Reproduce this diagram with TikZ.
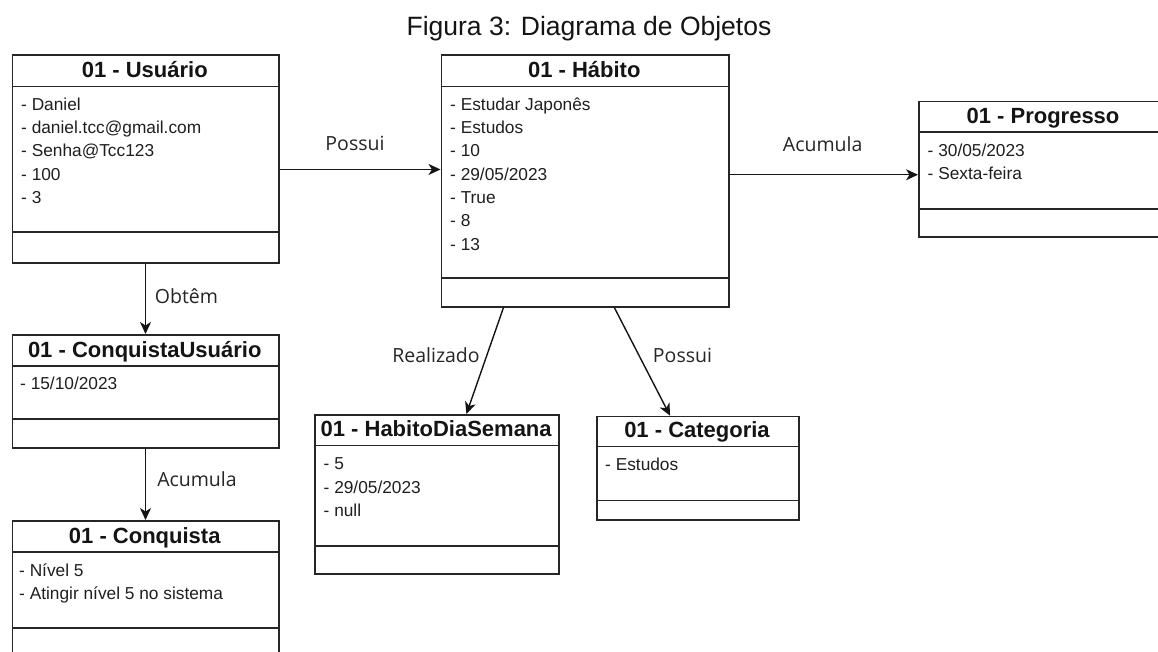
\documentclass[tikz,border=0pt]{standalone}
\usepackage{fontspec}
\setmainfont{Liberation Sans}
\newfontfamily\lblfont{Open Sans}
\usetikzlibrary{arrows.meta}
\definecolor{bordc}{HTML}{262626}
\tikzset{
  objbox/.style={draw=bordc, line width=1.5pt, fill=white, rectangle, inner sep=0pt, anchor=north west},
  divline/.style={draw=bordc, line width=1.5pt},
  hdtext/.style={anchor=base, inner sep=0pt, font=\fontsize{22pt}{26pt}\selectfont\bfseries, text=black!92},
  attrtext/.style={anchor=base west, inner sep=0pt, font=\fontsize{17.3pt}{20pt}\selectfont, text=black!88},
  lbltext/.style={anchor=base, inner sep=0pt, font=\lblfont\fontsize{19.5pt}{23pt}\selectfont, text=black!85},
  conn/.style={draw=black!92, line width=1.4pt, -{Stealth[length=12pt, width=11pt, inset=3.5pt]}},
  ttltext/.style={anchor=base, inner sep=0pt, font=\fontsize{26.5pt}{30pt}\selectfont, text=black!92}
}
\begin{document}
\begin{tikzpicture}[x=1pt,y=-1pt]
\useasboundingbox (0,0) rectangle (1158,651);
\clip (0,0) rectangle (1158,651);
\fill[white] (0,0) rectangle (1158,651);

% Title
\node[ttltext] (title) at (589,35) {Figura 3: Diagrama de Objetos};

% 01 - Usuario
\node[objbox, minimum width=266.5pt, minimum height=208pt] (U) at (11.5,54) {};
\draw[divline] (U.west |- 0,86.5) -- (U.east |- 0,86.5);
\draw[divline] (U.west |- 0,232) -- (U.east |- 0,232);
\node[hdtext] (Ut) at (144.75,77.3) {01 - Usuário};
\node[attrtext] (Ua1) at (21,110) {- Daniel};
\node[attrtext] (Ua2) at (21,133.3) {- daniel.tcc@gmail.com};
\node[attrtext] (Ua3) at (21,156.7) {- Senha@Tcc123};
\node[attrtext] (Ua4) at (21,180) {- 100};
\node[attrtext] (Ua5) at (21,203.3) {- 3};

% 01 - Habito
\node[objbox, minimum width=287.5pt, minimum height=252pt] (H) at (440.5,54) {};
\draw[divline] (H.west |- 0,86.5) -- (H.east |- 0,86.5);
\draw[divline] (H.west |- 0,278) -- (H.east |- 0,278);
\node[hdtext] (Ht) at (584.25,77.3) {01 - Hábito};
\node[attrtext] (Ha1) at (450,110) {- Estudar Japonês};
\node[attrtext] (Ha2) at (450,133.3) {- Estudos};
\node[attrtext] (Ha3) at (450,156.7) {- 10};
\node[attrtext] (Ha4) at (450,180) {- 29/05/2023};
\node[attrtext] (Ha5) at (450,203.3) {- True};
\node[attrtext] (Ha6) at (450,226.7) {- 8};
\node[attrtext] (Ha7) at (450,250) {- 13};

% 01 - Progresso
\node[objbox, minimum width=250pt, minimum height=135.5pt] (P) at (918,100.5) {};
\draw[divline] (P.west |- 0,132) -- (P.east |- 0,132);
\draw[divline] (P.west |- 0,209) -- (P.east |- 0,209);
\node[hdtext] (Pt) at (1043,123.3) {01 - Progresso};
\node[attrtext] (Pa1) at (927.5,156.5) {- 30/05/2023};
\node[attrtext] (Pa2) at (927.5,179.2) {- Sexta-feira};

% 01 - ConquistaUsuario
\node[objbox, minimum width=266.5pt, minimum height=113pt] (CU) at (11.5,334) {};
\draw[divline] (CU.west |- 0,366) -- (CU.east |- 0,366);
\draw[divline] (CU.west |- 0,419) -- (CU.east |- 0,419);
\node[hdtext] (CUt) at (144.75,357.5) {01 - ConquistaUsuário};
\node[attrtext] (CUa1) at (20,389.8) {- 15/10/2023};

% 01 - Conquista
\node[objbox, minimum width=266.5pt, minimum height=150pt] (C) at (11.5,520) {};
\draw[divline] (C.west |- 0,552) -- (C.east |- 0,552);
\draw[divline] (C.west |- 0,628) -- (C.east |- 0,628);
\node[hdtext] (Ct) at (144.75,543.3) {01 - Conquista};
\node[attrtext] (Ca1) at (19,576.5) {- Nível 5};
\node[attrtext] (Ca2) at (19,599.2) {- Atingir nível 5 no sistema};

% 01 - HabitoDiaSemana
\node[objbox, minimum width=243.7pt, minimum height=159pt] (HD) at (314.3,414) {};
\draw[divline] (HD.west |- 0,445.7) -- (HD.east |- 0,445.7);
\draw[divline] (HD.west |- 0,546) -- (HD.east |- 0,546);
\node[hdtext] (HDt) at (436.15,436.7) {01 - HabitoDiaSemana};
\node[attrtext] (HDa1) at (323.5,469.8) {- 5};
\node[attrtext] (HDa2) at (323.5,493.1) {- 29/05/2023};
\node[attrtext] (HDa3) at (323.5,516.5) {- null};

% 01 - Categoria
\node[objbox, minimum width=202pt, minimum height=103.6pt] (CA) at (596,415.7) {};
\draw[divline] (CA.west |- 0,446.7) -- (CA.east |- 0,446.7);
\draw[divline] (CA.west |- 0,500.7) -- (CA.east |- 0,500.7);
\node[hdtext] (CAt) at (697,437.7) {01 - Categoria};
\node[attrtext] (CAa1) at (605,470.8) {- Estudos};

% Connectors
\draw[conn] ([yshift=-10.7pt]U.east) -- ([yshift=-10.7pt]U.east -| H.west);
\node[lbltext] (l1) at (355,150.7) {Possui};

\draw[conn] ([yshift=6pt]H.east) -- ([yshift=6pt]H.east -| P.west);
\node[lbltext] (l2) at (822.7,151.2) {Acumula};

\draw[conn] (U.south) -- (CU.north);
\node[lbltext] (l3) at (186.5,303.3) {Obtêm};

\draw[conn] (CU.south) -- (C.north);
\node[lbltext] (l4) at (197,486.3) {Acumula};

\draw[conn] ([xshift=-81.5pt]H.south) -- ([xshift=29.5pt]HD.north);
\node[lbltext] (l5) at (436,362.5) {Realizado};

\draw[conn] ([xshift=29.3pt]H.south) -- ([xshift=-27.7pt]CA.north);
\node[lbltext] (l6) at (682.5,362.5) {Possui};
\end{tikzpicture}
\end{document}
